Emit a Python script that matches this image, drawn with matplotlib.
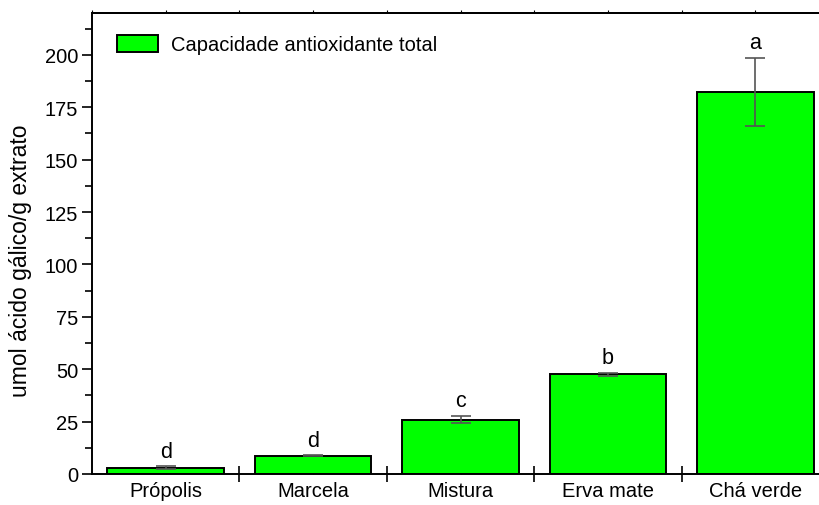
"""
Capacidade antioxidante total por extrato (barras com desvio e letras)
"""

import numpy as np
import matplotlib
matplotlib.use('Agg')
import matplotlib.pyplot as plt
from matplotlib.ticker import MultipleLocator

plt.rcParams['font.family'] = ['Liberation Sans', 'DejaVu Sans']

# dados
amostras = ['Própolis', 'Marcela', 'Mistura', 'Erva mate', 'Chá verde']
medias = [3.0, 8.7, 25.9, 47.6, 182.3]
desvios = [0.6, 0.2, 1.7, 0.8, 16.3]
letras = ['d', 'd', 'c', 'b', 'a']

fig = plt.figure(figsize=(8.19, 5.06), dpi=100)
# o eixo direito fica fora da figura, como no original
ax = fig.add_axes([92 / 819, 31 / 506, 737 / 819, 461 / 506])

x = np.arange(len(amostras))
ax.bar(x, medias, width=0.79, color='#00ff00', edgecolor='black',
       linewidth=1.4, label='Capacidade antioxidante total', zorder=2)
ax.errorbar(x, medias, yerr=desvios, fmt='none', ecolor='#555555',
            elinewidth=1.2, capsize=7, capthick=1.2, zorder=3)

for xi, m, d, l in zip(x, medias, desvios, letras):
    ax.annotate(l, (xi, m + d), xytext=(0, 7), textcoords='offset points',
                ha='center', va='baseline', fontsize=15.5)

ax.set_xlim(-0.5, 4.5)
ax.set_ylim(0, 220)

# eixo y
ax.yaxis.set_major_locator(MultipleLocator(25))
ax.yaxis.set_minor_locator(MultipleLocator(12.5))
ax.set_yticks(np.arange(0, 201, 25))
ax.tick_params(axis='y', which='major', direction='out', length=7, width=1.2,
               labelsize=14.5, pad=3)
ax.tick_params(axis='y', which='minor', direction='out', length=5, width=1.2)
ax.set_ylabel('umol ácido gálico/g extrato', fontsize=16.5, va='center')
ax.yaxis.set_label_coords(-0.097, 0.464)

# eixo x: marcas maiores entre categorias, rótulos no centro
ax.set_xticks(x + 0.5)
ax.set_xticklabels([])
ax.set_xticks(x, minor=True)
ax.set_xticklabels(amostras, minor=True, fontsize=14.5)
ax.tick_params(axis='x', which='major', direction='inout', length=11, width=1.2)
ax.tick_params(axis='x', which='minor', direction='in', length=3, width=0.8, pad=5)

# marcas pequenas no topo
topo = ax.secondary_xaxis('top')
topo.set_xticks(np.arange(-0.5, 5, 0.5))
topo.set_xticklabels([])
topo.tick_params(direction='out', length=2.5, width=0.8)

for lado in ['left', 'bottom', 'top']:
    ax.spines[lado].set_linewidth(1.4)
topo.spines['top'].set_linewidth(1.4)
ax.spines['right'].set_visible(False)

ax.legend(loc='upper left', frameon=False, fontsize=14.5, handlelength=2.05,
          handleheight=0.95, handletextpad=0.65,
          bbox_to_anchor=(0.023, 0.97), borderaxespad=0)

fig.savefig('out.png', dpi=100)
